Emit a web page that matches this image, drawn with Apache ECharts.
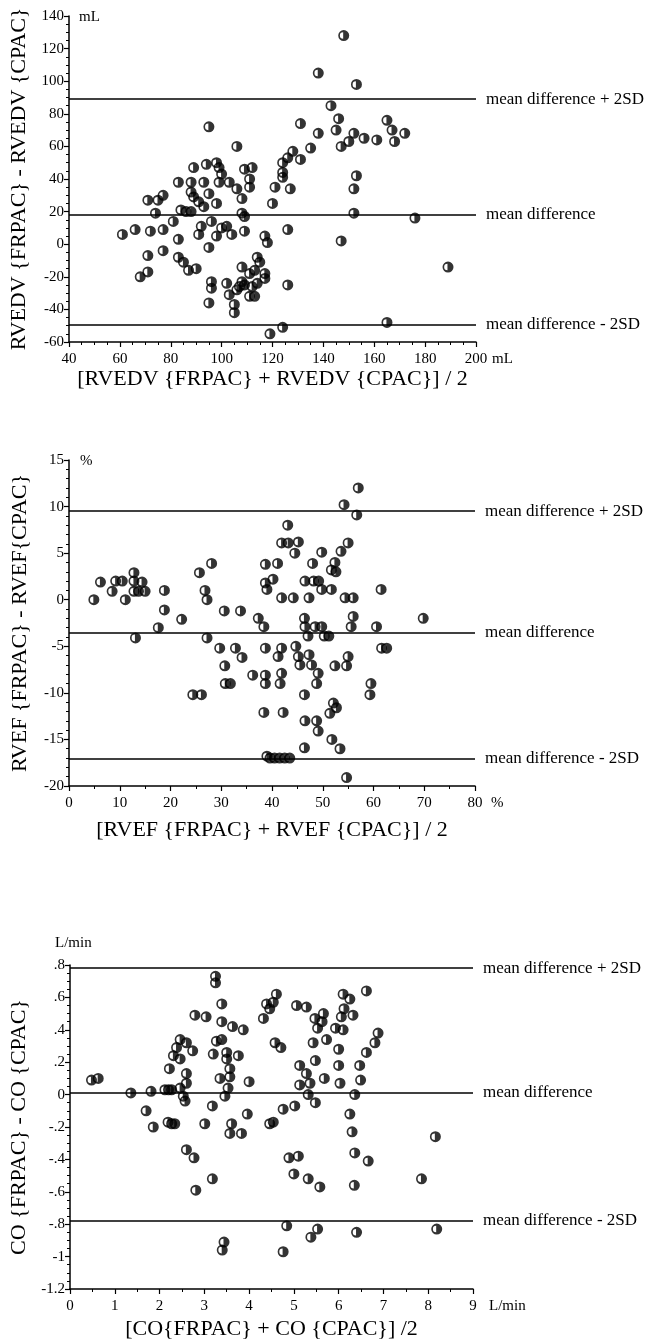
<!DOCTYPE html>
<html>
<head>
<meta charset="utf-8">
<script src="https://cdn.jsdelivr.net/npm/echarts/dist/echarts.min.js"></script>
<style>
  html, body { margin: 0; padding: 0; background: #fff; }
  #chart { width: 651px; height: 1343px; }
</style>
</head>
<body>
<div id="chart"></div>
<script>
// ---- data ----
var rvedvPoints = [
  [61,6],[66,9],[72,8],[77,9],[71,27],[75,27],[77,30],[74,19],[81,14],[77,-4],[71,-7],[68,-20],[71,-17],
  [83,38],[88,38],[93,38],[99,38],[103,38],[106,34],[88,32],[89,29],[95,31],[91,26],[93,23],[98,25],[108,28],[120,25],
  [84,21],[86,20],[88,20],[108,19],[109,17],[96,14],[91,6],[92,11],[98,5],[100,10],[102,11],[104,6],[109,8],[117,5],[118,1],[126,9],
  [83,3],[95,-2],[83,-8],[85,-11],[87,-16],[90,-15],[96,-23],[96,-27],[95,-36],[102,-24],[103,-31],[105,-37],[105,-42],
  [108,-14],[114,-8],[115,-11],[117,-18],[117,-21],[107,-26],[109,-25],[112,-26],[111,-32],[113,-32],[106,-28],[108,-23],[114,-24],[111,-18],[113,-16],
  [126,-25],[119,-55],[124,-51],
  [121,35],[127,34],[124,50],[126,53],[128,57],[124,44],[124,41],[131,74],
  [95,72],[106,60],[89,47],[94,49],[98,50],[99,47],[100,43],[109,46],[112,47],[111,40],[111,35],
  [131,52],[135,59],[138,68],[138,105],[148,128],[153,98],[143,85],
  [146,77],[145,70],[147,60],[150,63],[152,68],[156,65],[161,64],[165,76],[167,70],[168,63],[172,68],
  [153,42],[152,34],[152,19],[176,16],[147,2],[189,-14],[165,-48]
];
var rvedvLimits = [89, 18, -49.5];

var rvefPoints = [
  [6.2,1.9],[4.9,0],[9.2,2],[10.5,2],[8.5,0.9],[11.1,0],[12.8,2.9],[12.8,2],[14.4,1.9],[13.7,0.9],[15,0.9],[12.8,0.9],[13.1,-4.1],
  [18.8,1],[18.8,-1.1],[22.2,-2.1],[17.6,-3],[25.7,2.9],[28.1,3.9],[26.8,1],[27.2,0],[27.2,-4.1],[30.6,-1.2],[33.8,-1.2],[37.3,-2],[38.4,-2.9],
  [29.7,-5.2],[32.8,-5.2],[34.1,-6.2],[30.7,-7.1],[30.8,-9],[31.8,-9],[24.4,-10.2],[26.1,-10.2],[36.2,-8.1],[38.4,-12.1],
  [38.7,3.8],[38.7,1.8],[39,1.1],[38.7,-5.2],[38.7,-8.1],[38.7,-9],[39,-16.8],
  [57,12],[54.2,10.2],[56.7,9.1],[43.1,8],[41.9,6.1],[43.2,6.1],[45.2,6.2],[44.5,5],[49.8,5.1],[55,6.1],[53.6,5.2],[52.4,4],[51.7,3.2],[52.6,3],
  [48,3.9],[41.1,3.9],[40.2,2.2],[46.5,2],[48.2,2],[49.2,2],[49.8,1.1],[51.7,1.1],[41.9,0.2],[44.2,0.2],[47.3,0.2],[54.4,0.2],[56,0.2],[61.5,1.1],[69.8,-2],
  [46.4,-2],[46.5,-2.9],[47.1,-3.9],[48.5,-2.9],[49.8,-2.9],[50.3,-3.9],[51.2,-3.9],[56,-1.8],[55.6,-2.9],[60.6,-2.9],[61.6,-5.2],[62.6,-5.2],
  [41.9,-5.2],[41.2,-6.1],[44.7,-5],[45.2,-6.1],[45.5,-7],[47.3,-5.9],[47.8,-7],[49.1,-7.9],[48.8,-9],[52.4,-7.1],[54.7,-7.1],[55,-6.1],
  [41.9,-7.9],[41.6,-9],[46.4,-10.2],[59.5,-9],[59.3,-10.2],
  [42.2,-12.1],[52.1,-11.1],[51.4,-12.2],[52.7,-11.6],[46.5,-13],[48.8,-13],[49.1,-14.1],[51.8,-15],[46.4,-15.9],[53.4,-16],
  [39.6,-17],[40.5,-17],[41.5,-17],[42.5,-17],[43.5,-17],[54.7,-19.1]
];
var rvefLimits = [9.5, -3.5, -17.1];

var coPoints = [
  [0.48,0.09],[0.63,0.1],[1.36,0.01],[1.81,0.02],[2.12,0.03],[2.2,0.03],[2.27,0.03],[2.46,0.04],[1.7,-0.1],[1.86,-0.2],[2.19,-0.17],[2.27,-0.18],[2.34,-0.18],
  [2.22,0.16],[2.31,0.24],[2.46,0.22],[2.38,0.29],[2.46,0.34],[2.6,0.32],[2.74,0.27],[2.6,0.13],[2.6,0.07],[2.53,-0.01],[2.57,-0.04],
  [2.79,0.49],[3.04,0.48],[2.6,-0.34],[2.77,-0.39],[2.81,-0.59],[3.18,-0.52],[3.01,-0.18],[3.18,-0.07],[3.25,0.73],[3.25,0.69],[3.39,0.56],
  [3.39,0.45],[3.63,0.42],[3.87,0.4],[3.27,0.33],[3.39,0.34],[3.2,0.25],[3.5,0.26],[3.76,0.24],[3.5,0.22],[3.57,0.16],[3.35,0.1],[3.57,0.11],[3.53,0.04],[3.46,-0.01],
  [4,0.08],[3.96,-0.12],[3.61,-0.18],[3.57,-0.24],[3.83,-0.24],[3.44,-0.91],[3.4,-0.96],[4.39,0.56],[4.32,0.47],[4.46,-0.18],
  [4.61,0.62],[4.54,0.57],[4.46,0.53],[5.06,0.55],[5.28,0.54],[5.47,0.47],[5.66,0.5],[5.53,0.41],[5.63,0.45],
  [6.1,0.62],[6.25,0.59],[6.12,0.53],[6.06,0.48],[6.32,0.49],[5.93,0.41],[6.1,0.4],[6.62,0.64],[6.88,0.38],[6.81,0.32],[6.62,0.26],
  [4.58,0.32],[4.71,0.29],[5.43,0.32],[5.73,0.34],[6,0.28],[5.13,0.18],[5.28,0.13],[5.48,0.21],[6,0.18],[6.47,0.18],[6.49,0.09],[5.68,0.1],[6.03,0.07],[5.13,0.06],[5.36,0.07],
  [5.32,0],[5.48,-0.05],[6.36,0],[5.02,-0.07],[4.76,-0.09],[4.54,-0.17],[6.25,-0.12],[6.3,-0.23],[8.16,-0.26],[6.36,-0.36],[6.66,-0.41],[4.89,-0.39],[5.1,-0.38],[5,-0.49],[5.32,-0.52],[5.58,-0.57],[6.35,-0.56],[7.85,-0.52],
  [4.84,-0.81],[5.38,-0.88],[5.53,-0.83],[6.4,-0.85],[8.19,-0.83],[4.76,-0.97]
];
var coLimits = [0.78, 0.015, -0.775];

var limitNames = ['mean difference + 2SD', 'mean difference', 'mean difference - 2SD'];

var FONT = '"Liberation Serif", "Times New Roman", serif';
// circle with a white half-moon on the left
var dot = 'path://M10,0A10,10 0 1,1 10,20A10,10 0 1,1 10,0ZM9,4A6,6 0 0,0 9,16Z';

var panels = [
  {
    points: rvedvPoints, limits: rvedvLimits,
    grid: { left: 69, top: 16, width: 407, height: 326 },
    x: { min: 40, max: 200, interval: 20, minor: 4 },
    y: { min: -60, max: 140, interval: 20, minor: 4 },
    xTitle: '[RVEDV {FRPAC} + RVEDV {CPAC}] / 2', xGap: 26,
    yTitle: 'RVEDV {FRPAC} - RVEDV {CPAC}', yGap: 38,
    xUnit: 'mL', yUnit: 'mL', yUnitDx: 10
  },
  {
    points: rvefPoints, limits: rvefLimits,
    grid: { left: 69, top: 460, width: 406, height: 326 },
    x: { min: 0, max: 80, interval: 10, minor: 2 },
    y: { min: -20, max: 15, interval: 5, minor: 5 },
    xTitle: '[RVEF {FRPAC} + RVEF {CPAC}] / 2', xGap: 33,
    yTitle: 'RVEF {FRPAC} - RVEF{CPAC}', yGap: 38,
    xUnit: '%', yUnit: '%', yUnitDx: 11
  },
  {
    points: coPoints, limits: coLimits,
    grid: { left: 70, top: 965, width: 403, height: 324 },
    x: { min: 0, max: 9, interval: 1, minor: 2 },
    y: { min: -1.2, max: 0.8, interval: 0.2, minor: 4 },
    xTitle: '[CO{FRPAC} + CO {CPAC}] /2', xGap: 29,
    yTitle: 'CO {FRPAC} - CO {CPAC}', yGap: 36,
    xUnit: 'L/min', yUnit: 'L/min', yUnitDx: -15, yUnitDy: -22,
    yFmt: function (v) {
      var s = String(Math.round(v * 10) / 10);
      return s.replace(/^(-?)0\./, '$1.');
    }
  }
];

var axisCommon = {
  axisLine: { onZero: false, lineStyle: { color: '#000', width: 1.5 } },
  axisTick: { lineStyle: { color: '#000', width: 1.2 }, length: 5 },
  splitLine: { show: false },
  nameTextStyle: { color: '#000', fontFamily: FONT, fontSize: 22 }
};

var grids = [], xAxes = [], yAxes = [], series = [];
panels.forEach(function (p, i) {
  grids.push(p.grid);
  xAxes.push(Object.assign({}, axisCommon, {
    type: 'value', gridIndex: i, min: p.x.min, max: p.x.max, interval: p.x.interval,
    name: p.xTitle, nameLocation: 'middle', nameGap: p.xGap,
    minorTick: { show: true, splitNumber: p.x.minor, length: 3, lineStyle: { color: '#000' } },
    axisLabel: { color: '#000', fontFamily: FONT, fontSize: 15, margin: 10 }
  }));
  yAxes.push(Object.assign({}, axisCommon, {
    type: 'value', gridIndex: i, min: p.y.min, max: p.y.max, interval: p.y.interval,
    name: p.yTitle, nameLocation: 'middle', nameGap: p.yGap,
    minorTick: { show: true, splitNumber: p.y.minor, length: 3, lineStyle: { color: '#000' } },
    axisLabel: { color: '#000', fontFamily: FONT, fontSize: 15, margin: 5, formatter: p.yFmt }
  }));
  series.push({
    type: 'scatter', xAxisIndex: i, yAxisIndex: i,
    data: p.points,
    symbol: dot, symbolSize: 11,
    itemStyle: { color: '#000' },
    silent: true,
    markLine: {
      silent: true, symbol: 'none',
      lineStyle: { color: '#000', width: 1.5, type: 'solid' },
      label: { show: true, position: 'end', distance: 10, formatter: '{b}',
               color: '#000', fontFamily: FONT, fontSize: 17 },
      data: p.limits.map(function (v, k) { return { yAxis: v, name: limitNames[k] }; })
    }
  });
});

var chart = echarts.init(document.getElementById('chart'));
chart.setOption({
  animation: false,
  backgroundColor: '#fff',
  grid: grids, xAxis: xAxes, yAxis: yAxes, series: series
});

// unit labels placed from the axis scales
var units = [];
panels.forEach(function (p, i) {
  var xEnd = chart.convertToPixel({ gridIndex: i }, [p.x.max, p.y.min]);
  var yTop = chart.convertToPixel({ gridIndex: i }, [p.x.min, p.y.max]);
  units.push({
    type: 'text', x: xEnd[0] + 16, y: xEnd[1] + 17,
    style: { text: p.xUnit, font: '15px ' + FONT, fill: '#000', verticalAlign: 'middle' }
  });
  units.push({
    type: 'text', x: yTop[0] + p.yUnitDx, y: yTop[1] + (p.yUnitDy || 1),
    style: { text: p.yUnit, font: '15px ' + FONT, fill: '#000', verticalAlign: 'middle' }
  });
});
chart.setOption({ graphic: units });
</script>
</body>
</html>
